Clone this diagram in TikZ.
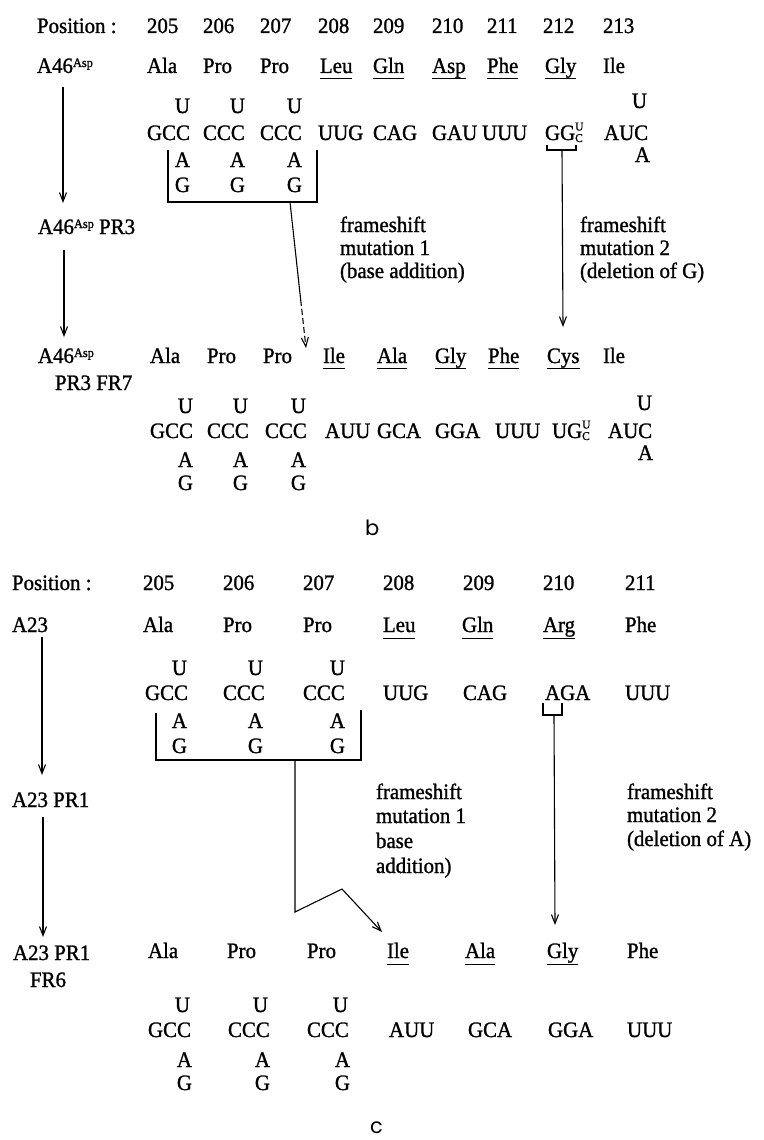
\documentclass[tikz,border=0pt]{standalone}
\usepackage{fontspec}
\setmainfont{Liberation Serif}[FakeStretch=0.95,FakeBold=1.2]
\newfontfamily\lblfont{Poppins}
\usetikzlibrary{arrows.meta}
\newcommand\supr[1]{\raisebox{6pt}{\fontsize{13}{13}\selectfont #1}}
\newcommand\ucsup{\makebox[0pt][l]{\raisebox{9.5pt}{\fontsize{12}{12}\selectfont U}}\raisebox{-2pt}{\fontsize{12}{12}\selectfont C}}
\tikzset{
  t/.style={inner sep=0pt, outer sep=0pt, anchor=base west},
  tr/.style={inner sep=0pt, outer sep=0pt, anchor=base east},
  ln/.style={line width=1.1pt},
  ul/.style={line width=1pt},
  arr/.style={line width=1.1pt, -{Straight Barb[length=9pt,width=7pt]}},
  sect/.style={inner sep=0pt, anchor=base west, font=\lblfont\fontsize{21}{21}\selectfont}
}
\begin{document}
\begin{tikzpicture}[x=1pt,y=-1pt,font=\fontsize{22}{25}\selectfont]
\useasboundingbox (0,0) rectangle (763,1140);

% ================= section b =================
\node[t] (bpos) at (37,33) {Position :};
\foreach \x/\n [count=\i] in {147/205,203/206,260/207,318/208,373/209,432/210,487/211,543/212,603/213}
  \node[t] (bp\i) at (\x,33) {\n};

\node[t] (bs1) at (37,73) {A46\supr{Asp}};
\foreach \x/\w/\u [count=\i] in {147/Ala/0,203/Pro/0,260/Pro/0,320/Leu/1,373/Gln/1,432/Asp/1,487/Phe/1,545/Gly/1,603/Ile/0}{
  \node[t] (ba\i) at (\x,73) {\w};
  \ifnum\u=1 \draw[ul] ([yshift=-5.5pt]ba\i.base west) -- ([yshift=-5.5pt]ba\i.base east);\fi
}
\foreach \x [count=\i] in {190,245,302}{
  \node[tr] (bu\i) at (\x,113) {U};
  \node[tr] (bA\i) at (\x,167) {A};
  \node[tr] (bG\i) at (\x,192) {G};
}
\node[tr] (bu4) at (647,108) {U};
\node[tr] (bA4) at (650,162) {A};
\foreach \x/\w [count=\i] in {147/GCC,203/CCC,260/CCC,318/UUG,373/CAG,432/GAU,482/UUU,545/{GG\ucsup},604/AUC}
  \node[t] (bc\i) at (\x,140) {\w};

% box round A/G
\coordinate (bb1) at (168,150);
\coordinate (bb2) at (168,202);
\coordinate (bb3) at (317,202);
\coordinate (bb4) at (317,150);
\draw[ln] (bb1) -- (bb2) -- (bb3) -- (bb4);
% mutation 1 connector
\coordinate (bm1s) at (290,202);
\coordinate (bm1m) at (300.7,300);
\coordinate (bm1e) at (306,348);
\draw[ln] (bm1s) -- (bm1m);
\draw[arr, dash pattern=on 6pt off 3pt] (bm1m) -- (bm1e);
% bracket under GG
\coordinate (bk1) at (547,145);
\coordinate (bk2) at (547,150);
\coordinate (bk3) at (576,150);
\coordinate (bk4) at (576,145);
\draw[ln] (bk1) -- (bk2) -- (bk3) -- (bk4);
\coordinate (bm2s) at (562,150);
\coordinate (bm2e) at (563,327);
\draw[arr] (bm2s) -- (bm2e);

% left lineage arrows
\coordinate (bl1s) at (63,87);
\coordinate (bl1e) at (63,203);
\draw[arr] (bl1s) -- (bl1e);
\node[t] (bs2) at (38,234) {A46\supr{Asp} PR3};
\coordinate (bl2s) at (64,250);
\coordinate (bl2e) at (64,337);
\draw[arr] (bl2s) -- (bl2e);

% labels
\node[t] (bm1a) at (340,232) {frameshift};
\node[t] (bm1b) at (340,255) {mutation 1};
\node[t] (bm1c) at (340,278) {(base addition)};
\node[t] (bm2a) at (580,232) {frameshift};
\node[t] (bm2b) at (580,255) {mutation 2};
\node[t] (bm2c) at (580,278) {(deletion of G)};

% second sequence
\node[t] (bs3) at (38,363) {A46\supr{Asp}};
\node[t] (bs3b) at (55,390) {PR3 FR7};
\foreach \x/\w/\u [count=\i] in {150/Ala/0,207/Pro/0,263/Pro/0,323/Ile/1,377/Ala/1,435/Gly/1,488/Phe/1,547/Cys/1,603/Ile/0}{
  \node[t] (bx\i) at (\x,363) {\w};
  \ifnum\u=1 \draw[ul] ([yshift=-5pt]bx\i.base west) -- ([yshift=-5pt]bx\i.base east);\fi
}
\foreach \x [count=\i] in {193,248,306}{
  \node[tr] (bxu\i) at (\x,413) {U};
  \node[tr] (bxA\i) at (\x,467) {A};
  \node[tr] (bxG\i) at (\x,490) {G};
}
\node[tr] (bxu4) at (652,410) {U};
\node[tr] (bxA4) at (653,460) {A};
\foreach \x/\w [count=\i] in {150/GCC,207/CCC,265/CCC,325/AUU,377/GCA,435/GGA,495/UUU,552/{UG\ucsup},608/AUC}
  \node[t] (bxc\i) at (\x,438) {\w};

\node[sect] (blab) at (365,535) {b};

% ================= section c =================
\node[t] (cpos) at (12,590) {Position :};
\foreach \x/\n [count=\i] in {143/205,223/206,303/207,383/208,463/209,543/210,625/211}
  \node[t] (cp\i) at (\x,590) {\n};

\node[t] (cs1) at (12,632) {A23};
\foreach \x/\w/\u [count=\i] in {143/Ala/0,223/Pro/0,303/Pro/0,383/Leu/1,462/Gln/1,543/Arg/1,625/Phe/0}{
  \node[t] (ca\i) at (\x,632) {\w};
  \ifnum\u=1 \draw[ul] ([yshift=-6pt]ca\i.base west) -- ([yshift=-6pt]ca\i.base east);\fi
}
\foreach \x [count=\i] in {187,263,345}{
  \node[tr] (cu\i) at (\x,675) {U};
  \node[tr] (cA\i) at (\x,728) {A};
  \node[tr] (cG\i) at (\x,753) {G};
}
\foreach \x/\w [count=\i] in {145/GCC,223/CCC,303/CCC,383/UUG,463/CAG,545/AGA,625/UUU}
  \node[t] (cc\i) at (\x,700) {\w};

% box
\coordinate (cb1) at (156,713);
\coordinate (cb2) at (156,760);
\coordinate (cb3) at (361,760);
\coordinate (cb4) at (361,710);
\draw[ln] (cb1) -- (cb2) -- (cb3) -- (cb4);
% mutation 1 connector
\coordinate (cm1s) at (295,760);
\coordinate (cm1a) at (295,912);
\coordinate (cm1b) at (342,889);
\coordinate (cm1e) at (382,932);
\draw[arr] (cm1s) -- (cm1a) -- (cm1b) -- (cm1e);
% bracket under AGA
\coordinate (ck1) at (543,703);
\coordinate (ck2) at (543,715);
\coordinate (ck3) at (562,715);
\coordinate (ck4) at (562,703);
\draw[ln] (ck1) -- (ck2) -- (ck3) -- (ck4);
\coordinate (cm2s) at (554,715);
\coordinate (cm2e) at (555,925);
\draw[arr] (cm2s) -- (cm2e);

% left lineage arrows
\coordinate (cl1s) at (42,637);
\coordinate (cl1e) at (42,775);
\draw[arr] (cl1s) -- (cl1e);
\node[t] (cs2) at (12,807) {A23 PR1};
\coordinate (cl2s) at (43,817);
\coordinate (cl2e) at (43,937);
\draw[arr] (cl2s) -- (cl2e);

% labels
\node[t] (cm1la) at (376,799) {frameshift};
\node[t] (cm1lb) at (376,823) {mutation 1};
\node[t] (cm1lc) at (376,848) {base};
\node[t] (cm1ld) at (376,873) {addition)};
\node[t] (cm2la) at (627,799) {frameshift};
\node[t] (cm2lb) at (627,822) {mutation 2};
\node[t] (cm2lc) at (627,846) {(deletion of A)};

% second sequence
\node[t] (cs3) at (13,960) {A23 PR1};
\node[t] (cs3b) at (30,987) {FR6};
\foreach \x/\w/\u [count=\i] in {148/Ala/0,227/Pro/0,307/Pro/0,387/Ile/1,465/Ala/1,547/Gly/1,627/Phe/0}{
  \node[t] (cx\i) at (\x,958) {\w};
  \ifnum\u=1 \draw[ul] ([yshift=-6.5pt]cx\i.base west) -- ([yshift=-6.5pt]cx\i.base east);\fi
}
\foreach \x [count=\i] in {190,268,348}{
  \node[tr] (cxu\i) at (\x,1012) {U};
  \node[tr] (cxA\i) at (\x+2,1067) {A};
  \node[tr] (cxG\i) at (\x+2,1090) {G};
}
\foreach \x/\w [count=\i] in {148/GCC,228/CCC,307/CCC,389/AUU,468/GCA,548/GGA,627/UUU}
  \node[t] (cxc\i) at (\x,1037) {\w};

\node[sect] (clab) at (370,1133) {c};
\end{tikzpicture}
\end{document}
